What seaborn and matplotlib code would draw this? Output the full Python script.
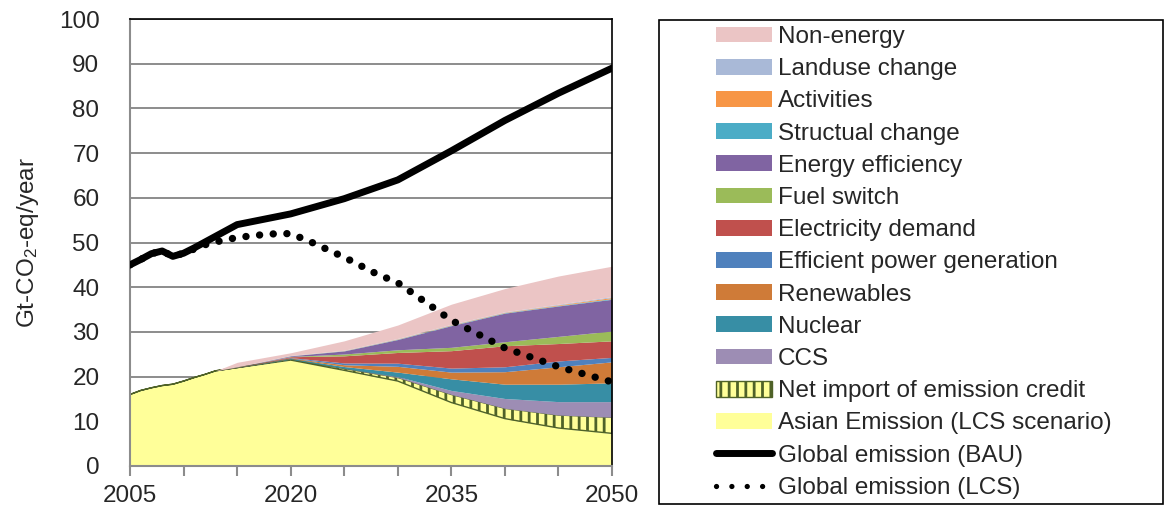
import numpy as np
import pandas as pd
import seaborn as sns
import matplotlib.pyplot as plt
from matplotlib.patches import Patch, Rectangle
from matplotlib.lines import Line2D
from matplotlib.ticker import FixedLocator, FuncFormatter

# Data (Gt-CO2-eq/year)
years = [2005, 2006, 2007, 2008, 2009, 2010, 2011, 2012, 2013,
         2015, 2020, 2025, 2030, 2035, 2040, 2045, 2050]
Z = [0.0] * 9  # no mitigation wedges before 2013

asian = [16.0, 16.9, 17.5, 18.0, 18.3, 19.0, 19.8, 20.5, 21.3,
         22.0, 23.7, 21.4, 19.0, 14.2, 10.6, 8.5, 7.3]
net_import = Z + [0.02, 0.2, 0.4, 0.8, 1.8, 2.3, 2.9, 3.6]
ccs = Z + [0.0, 0.0, 0.05, 0.2, 0.9, 2.2, 3.0, 3.5]
nuclear = Z + [0.02, 0.15, 0.4, 1.0, 2.6, 3.2, 3.9, 4.2]
renewables = Z + [0.02, 0.1, 0.4, 1.3, 1.5, 2.8, 3.9, 4.7]
eff_power = Z + [0.02, 0.1, 0.4, 0.7, 0.9, 1.1, 1.3, 1.0]
elec_demand = Z + [0.03, 0.2, 1.6, 2.4, 3.9, 4.7, 3.9, 3.7]
fuel_switch = Z + [0.02, 0.05, 0.4, 0.6, 0.75, 0.9, 1.6, 2.2]
energy_eff = Z + [0.03, 0.15, 0.7, 2.3, 4.85, 6.4, 6.8, 7.1]
structural = Z + [0.01, 0.03, 0.05, 0.08, 0.1, 0.1, 0.1, 0.15]
activities = Z + [0.01, 0.02, 0.05, 0.08, 0.1, 0.1, 0.15, 0.25]
landuse = Z + [0.01, 0.03, 0.05, 0.08, 0.1, 0.1, 0.15, 0.2]
non_energy = Z + [1.0, 0.6, 2.1, 3.0, 4.5, 5.2, 6.3, 6.8]

bau_years = [2005, 2006, 2007, 2008, 2009, 2010, 2011, 2012, 2013, 2014,
             2015, 2020, 2025, 2030, 2035, 2040, 2045, 2050]
bau = [45.0, 46.2, 47.5, 48.1, 46.9, 47.6, 48.8, 50.1, 51.4, 52.7,
       54.0, 56.4, 59.8, 64.0, 70.5, 77.3, 83.4, 89.0]

lcs_years = [2005, 2006, 2007, 2008, 2009, 2010, 2012, 2014, 2016, 2018,
             2020, 2022, 2025, 2028, 2030, 2035, 2040, 2045, 2050]
lcs = [45.0, 46.2, 47.5, 48.1, 46.9, 47.6, 49.5, 50.7, 51.4, 51.9,
       52.0, 50.0, 46.7, 43.0, 41.0, 32.6, 26.4, 22.2, 18.8]

# layers bottom -> top: (label, values, colour)
layers = [
    ('Asian Emission (LCS scenario)', asian, '#FFFF99'),
    ('Net import of emission credit', net_import, '#FFFF99'),
    ('CCS', ccs, '#9D8DB4'),
    ('Nuclear', nuclear, '#378EA5'),
    ('Renewables', renewables, '#CF7B38'),
    ('Efficient power generation', eff_power, '#4F81BD'),
    ('Electricity demand', elec_demand, '#C0504D'),
    ('Fuel switch', fuel_switch, '#9BBB59'),
    ('Energy efficiency', energy_eff, '#8064A2'),
    ('Structual change', structural, '#4BACC6'),
    ('Activities', activities, '#F79646'),
    ('Landuse change', landuse, '#A9B9D7'),
    ('Non-energy', non_energy, '#EBC5C5'),
]

FS = 17.5

sns.set_theme(style='white')
plt.rcParams['font.family'] = ['Liberation Sans', 'DejaVu Sans']
plt.rcParams['mathtext.fontset'] = 'custom'
plt.rcParams['mathtext.rm'] = 'Liberation Sans'
plt.rcParams['mathtext.it'] = 'Liberation Sans'
plt.rcParams['hatch.linewidth'] = 2.0
plt.rcParams['hatch.color'] = '#1A1A1A'

fig = plt.figure(figsize=(11.65, 5.14), dpi=100)
ax = fig.add_axes([130 / 1165, 48 / 514, 482 / 1165, 447 / 514])

# stacked wedges
base = np.zeros(len(years))
for label, vals, col in layers:
    top = base + np.array(vals)
    if label.startswith('Net import'):
        ax.fill_between(years, base, top, facecolor=col, edgecolor='#4F6228',
                        hatch='||', linewidth=1.0, zorder=2)
    else:
        ax.fill_between(years, base, top, color=col, linewidth=0, zorder=2)
    base = top

# global emission lines
sns.lineplot(x=bau_years, y=bau, ax=ax, color='black', linewidth=5.0,
             zorder=4, legend=False)
sns.lineplot(x=lcs_years, y=lcs, ax=ax, color='black', linewidth=5.3,
             linestyle=(0, (0.01, 1.85)), dash_capstyle='round',
             zorder=5, legend=False)

ax.set_xlim(2005, 2050)
ax.set_ylim(0, 100)
ax.set_yticks(range(0, 101, 10))
ax.xaxis.set_major_locator(FixedLocator(range(2005, 2051, 5)))
ax.xaxis.set_major_formatter(FuncFormatter(lambda v, p: f'{int(v)}' if (int(v) - 2005) % 15 == 0 else ''))
ax.grid(axis='y', color='#8C8C8C', linewidth=1.4)
ax.set_axisbelow(True)

ax.tick_params(axis='y', length=0, pad=22, labelsize=FS)
ax.tick_params(axis='x', bottom=True, length=7.5, width=1.5, color='#8C8C8C',
               pad=6, labelsize=FS, direction='out')
for s in ['left', 'bottom']:
    ax.spines[s].set_color('#8C8C8C')
    ax.spines[s].set_linewidth(1.5)
for s in ['top', 'right']:
    ax.spines[s].set_color('black')
    ax.spines[s].set_linewidth(1.2)

ax.set_ylabel('Gt-CO$_2$-eq/year', fontsize=FS)
ax.yaxis.set_label_coords(-0.185, 0.5)
ax.set_xlabel('')

# legend (top to bottom as in the reference)
handles = []
for label, vals, col in reversed(layers):
    if label.startswith('Net import'):
        handles.append(Patch(facecolor=col, edgecolor='#4F6228', hatch='||',
                             linewidth=1.0, label=label))
    else:
        handles.append(Patch(facecolor=col, edgecolor='none', label=label))
handles.append(Line2D([], [], color='black', linewidth=5.0,
                      label='Global emission (BAU)'))
handles.append(Line2D([], [], color='black', linewidth=3.8,
                      linestyle=(0, (0.01, 2.9)), dash_capstyle='round',
                      label='Global emission (LCS)'))

fig.patches.append(Rectangle((659 / 1165, (514 - 504) / 514), 504 / 1165, 484 / 514,
                             transform=fig.transFigure, fill=False,
                             edgecolor='black', linewidth=1.2))
fig.legend(handles=handles, loc='upper left',
           bbox_to_anchor=(716 / 1165, (514 - 26) / 514),
           frameon=False, fontsize=FS, handlelength=2.3, handleheight=0.62,
           handletextpad=0.25, labelspacing=0.42, borderpad=0, borderaxespad=0)

fig.savefig('out.png', dpi=100)
